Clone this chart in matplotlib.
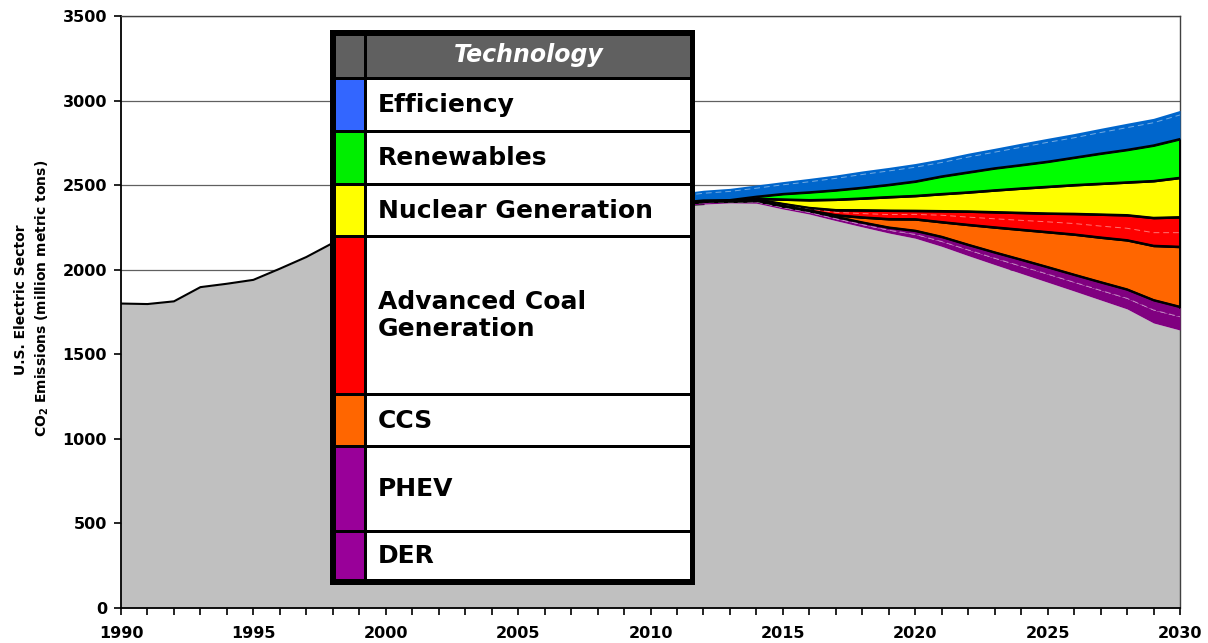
import matplotlib
matplotlib.use("Agg")
import matplotlib.pyplot as plt
from matplotlib.patches import Rectangle
import numpy as np

# historical + remaining emissions (grey area), 1990-2030
years = list(range(1990, 2031))
baseline = [1800, 1797, 1813, 1897, 1917, 1940, 2006, 2075, 2158, 2190,
            2280, 2250, 2280, 2300, 2330, 2380, 2350, 2390, 2370, 2330,
            2360, 2380, 2388, 2395, 2393, 2359, 2329, 2290, 2253, 2217,
            2186, 2138, 2083, 2030, 1978, 1926, 1874, 1821, 1768, 1685, 1643]

# reductions by technology, 2010-2030 (stacked from bottom)
tech_years = list(range(2010, 2031))
der = [0, 6, 8, 5, 8, 9, 10, 12, 14, 17, 23, 29, 34, 38, 43, 48, 52, 57, 63, 77, 79]
phev = [0, 6, 8, 5, 8, 9, 9, 11, 13, 16, 22, 28, 31, 35, 39, 42, 45, 49, 53, 59, 59]
ccs = [0, 0, 0, 0, 0, 0, 3, 10, 30, 50, 68, 87, 118, 148, 177, 207, 238, 264, 291, 321, 355]
coal_a = [0, 0, 0, 1, 4, 7, 8, 16, 22, 26, 28, 40, 45, 50, 55, 60, 64, 67, 70, 77, 83]
coal_b = [0, 0, 0, 1, 3, 6, 7, 14, 20, 24, 22, 25, 34, 40, 45, 50, 58, 69, 78, 88, 92]
nuclear = [0, 0, 0, 1, 4, 26, 46, 62, 70, 80, 88, 101, 113, 129, 144, 158, 170, 182, 194, 218, 233]
renew = [0, 4, 6, 4, 12, 32, 46, 55, 63, 72, 85, 104, 118, 130, 138, 148, 162, 178, 192, 210, 229]
eff_a = [0, 38, 42, 51, 50, 54, 62, 70, 78, 82, 84, 82, 90, 95, 105, 114, 117, 124, 131, 134, 142]
eff_b = [0, 16, 18, 18, 19, 19, 20, 20, 21, 21, 22, 22, 23, 23, 24, 24, 25, 25, 26, 26, 27]

legend_labels = ["Efficiency", "Renewables", "Nuclear Generation",
                 "Advanced Coal\nGeneration", "CCS", "PHEV", "DER"]
legend_colors = ["#3366FF", "#00EE00", "#FFFF00", "#FF0000", "#FF6600", "#990099", "#990099"]

W, H = 1208, 643
fig = plt.figure(figsize=(W / 100, H / 100), dpi=100)
ax = fig.add_axes([121 / W, 1 - 608 / H, (1180 - 121) / W, (608 - 16) / H])

ax.fill_between(years, 0, baseline, color="#C0C0C0", lw=0, zorder=2)
hist = [y for y in years if y <= 2012]
ax.plot(hist, baseline[:len(hist)], color="black", lw=1.5, zorder=3)

off = years.index(2010)
b0 = np.array(baseline[off:], dtype=float)
t = tech_years


def band(bottom, vals, color, edge):
    top = bottom + np.array(vals, dtype=float)
    ax.fill_between(t, bottom, top, facecolor=color,
                    edgecolor="black" if edge else color,
                    lw=1.5 if edge else 0, zorder=4)
    return top


def dash(vals):
    ax.plot(t, vals, color="white", lw=0.7, ls=(0, (6, 4)), alpha=0.45, zorder=5)


b1 = band(b0, der, "#800080", False)
b2 = band(b1, phev, "#800080", False)
dash(b1)
b3 = band(b2, ccs, "#FF6600", True)
b4a = b3 + np.array(coal_a)
b4 = band(b3, np.array(coal_a) + np.array(coal_b), "#FF0000", True)
dash(b4a)
b5 = band(b4, nuclear, "#FFFF00", True)
b6 = band(b5, renew, "#00FF00", True)
b7a = b6 + np.array(eff_a)
b7 = band(b6, np.array(eff_a) + np.array(eff_b), "#0066CC", False)
dash(b7a)
# redraw black outlines above neighbouring fills
for top in [b2, b3, b4, b5, b6]:
    ax.plot(t, top, color="black", lw=1.5, zorder=6)
ax.plot([2030, 2030], [b2[-1], b6[-1]], color="black", lw=2, zorder=6)

ax.set_xlim(1990, 2030)
ax.set_ylim(0, 3500)
ax.set_xticks(range(1990, 2031, 5))
ax.set_xticks(range(1990, 2031), minor=True)
ax.set_yticks(range(0, 3501, 500))
ax.yaxis.grid(True, color="#606060", lw=0.9)
ax.set_axisbelow(True)
ax.tick_params(axis="both", which="both", direction="out", length=5, width=1.2)
ax.tick_params(axis="x", pad=8)
ax.tick_params(axis="y", pad=5)
for lab in ax.get_xticklabels() + ax.get_yticklabels():
    lab.set_fontweight("bold")
    lab.set_fontsize(11.5)
for s in ["left", "bottom"]:
    ax.spines[s].set_color("black")
    ax.spines[s].set_linewidth(1.3)
for s in ["top", "right"]:
    ax.spines[s].set_color("#404040")
    ax.spines[s].set_linewidth(1.0)

fig.text(21 / W, 1 - 300 / H, "U.S. Electric Sector", rotation=90,
         ha="center", va="center", fontsize=10, fontweight="bold")
fig.text(42 / W, 1 - 298 / H, r"CO$_\mathbf{2}$ Emissions (million metric tons)",
         rotation=90, ha="center", va="center", fontsize=10, fontweight="bold")


# legend table drawn on top of the plot
def box(x0, y0, x1, y1, color):
    fig.add_artist(Rectangle((x0 / W, 1 - y1 / H), (x1 - x0) / W, (y1 - y0) / H,
                             transform=fig.transFigure, facecolor=color,
                             edgecolor="none", zorder=20))


box(330, 30, 695, 585, "black")
box(336, 36, 364, 77, "#606060")
box(367, 36, 690, 77, "#606060")
fig.text(529 / W, 1 - 55 / H, "Technology", ha="center", va="center",
         fontsize=17, fontweight="bold", style="italic", color="white", zorder=21)
rows = [(80, 130), (133, 183), (186, 235), (238, 393), (396, 445), (448, 530), (533, 579)]
for (r0, r1), lab, col in zip(rows, legend_labels, legend_colors):
    box(336, r0, 364, r1, col)
    box(367, r0, 690, r1, "white")
    fig.text(378 / W, 1 - (r0 + r1) / 2 / H, lab, ha="left", va="center",
             fontsize=18, fontweight="bold", color="black", zorder=21)

fig.savefig("out.png", dpi=100)
